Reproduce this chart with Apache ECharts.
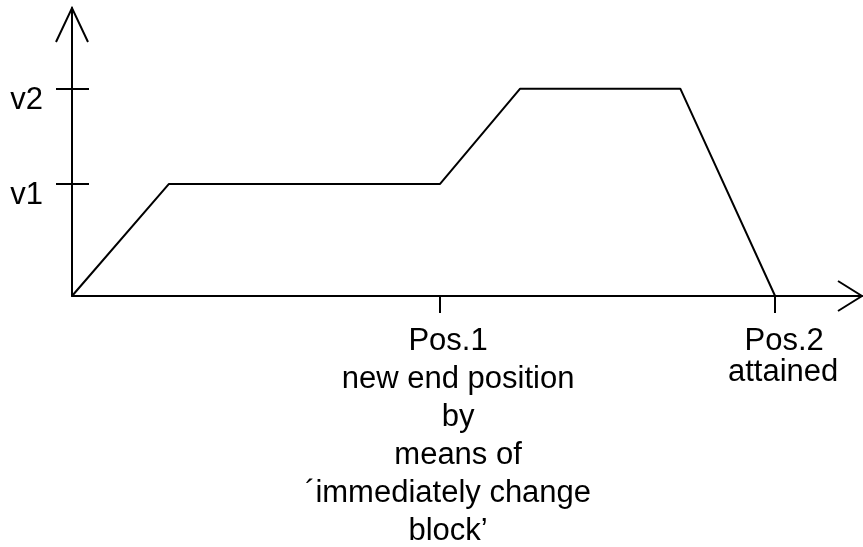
<!DOCTYPE html>
<html lang="en">
<head>
    <meta charset="UTF-8">
    <title>Speed profile</title>
    <script src="https://cdn.jsdelivr.net/npm/echarts@6.0.0/dist/echarts.min.js"></script>
</head>
<style>
    *{
        margin: 0;
        padding: 0;
    }
    html,body{
        width: 100%;
        height: 100%;
        overflow: hidden;
        background: #fff;
    }
    .container{
        width: 863px;
        height: 547px;
    }
</style>
<body>
<div class="container"></div>
<script>
    // travel (x) and speed (y) of the profile corners
    let travel = [0, 2.7, 10.25, 12.48, 16.94, 19.58];
    let speed = [0, 1, 1, 1.85, 1.85, 0];

    let yTicks = [1, 1.85];
    let yLabels = ['v1', 'v2'];
    let xTicks = [10.25, 19.58];
    let xLabels = [
        ['Pos.1', 'new end position', 'by', 'means of', '\u00b4immediately change', 'block\u2019'],
        ['Pos.2', 'attained']
    ];

    let xMax = 22;
    let yMax = 2.57;
    let font = 'Liberation Sans';

    // which rich style each label line uses (small sideways offsets, line heights)
    let lineStyles = [
        ['a', 'b', 'b', 'b', 'a', 'a'],
        ['c', 'd']
    ];

    let container = document.querySelector('.container');
    let mycharts = echarts.init(container);

    let option = {
        animation: false,
        grid: {left: 72, top: 8, right: 1, bottom: 251},
        xAxis: {
            type: 'value',
            min: 0,
            max: xMax,
            splitLine: {show: false},
            axisLine: {lineStyle: {color: '#000', width: 2}},
            axisTick: {
                customValues: xTicks,
                length: 17,
                lineStyle: {color: '#000', width: 2}
            },
            axisLabel: {
                customValues: xTicks,
                margin: 26,
                color: '#000',
                fontFamily: font,
                fontSize: 31,
                align: 'center',
                formatter: function (val) {
                    let k = xTicks.indexOf(val);
                    return xLabels[k].map((s, i) => '{' + lineStyles[k][i] + '|' + s + '}').join('\n');
                },
                rich: {
                    a: {fontFamily: font, fontSize: 31, color: '#000', lineHeight: 38, padding: [0, 0, 0, 16]},
                    b: {fontFamily: font, fontSize: 31, color: '#000', lineHeight: 38, padding: [0, 0, 0, 36]},
                    c: {fontFamily: font, fontSize: 31, color: '#000', lineHeight: 38, padding: [0, 0, 0, 18]},
                    d: {fontFamily: font, fontSize: 31, color: '#000', lineHeight: 24, padding: [0, 0, 0, 16]}
                }
            }
        },
        yAxis: [{
            type: 'value',
            min: 0,
            max: yMax,
            splitLine: {show: false},
            axisLine: {lineStyle: {color: '#000', width: 2}},
            axisTick: {
                customValues: yTicks,
                length: 16,
                lineStyle: {color: '#000', width: 2}
            },
            axisLabel: {
                customValues: yTicks,
                margin: 29,
                color: '#000',
                fontFamily: font,
                fontSize: 31,
                lineHeight: 24,
                verticalAlign: 'top',
                formatter: function (val) {
                    return yLabels[yTicks.indexOf(val)];
                }
            }
        }, {
            type: 'value',
            position: 'left',
            min: 0,
            max: yMax,
            splitLine: {show: false},
            axisLine: {show: false},
            axisTick: {
                inside: true,
                customValues: yTicks,
                length: 17,
                lineStyle: {color: '#000', width: 2}
            },
            axisLabel: {show: false}
        }],
        series: [{
            type: 'line',
            data: travel.map((t, i) => [t, speed[i]]),
            showSymbol: false,
            symbol: 'none',
            clip: false,
            lineStyle: {color: '#000', width: 2}
        }]
    };

    mycharts.setOption(option);

    // open arrow heads at the end of both axes
    let tipX = mycharts.convertToPixel({gridIndex: 0}, [xMax, 0]);
    let tipY = mycharts.convertToPixel({gridIndex: 0}, [0, yMax]);
    mycharts.setOption({
        graphic: [{
            type: 'polyline',
            shape: {points: [[tipX[0] - 24, tipX[1] - 15], [tipX[0], tipX[1]], [tipX[0] - 24, tipX[1] + 15]]},
            style: {stroke: '#000', lineWidth: 2, fill: null}
        }, {
            type: 'polyline',
            shape: {points: [[tipY[0] - 16, tipY[1] + 34], [tipY[0], tipY[1]], [tipY[0] + 16, tipY[1] + 34]]},
            style: {stroke: '#000', lineWidth: 2, fill: null}
        }]
    });
</script>
</body>
</html>
